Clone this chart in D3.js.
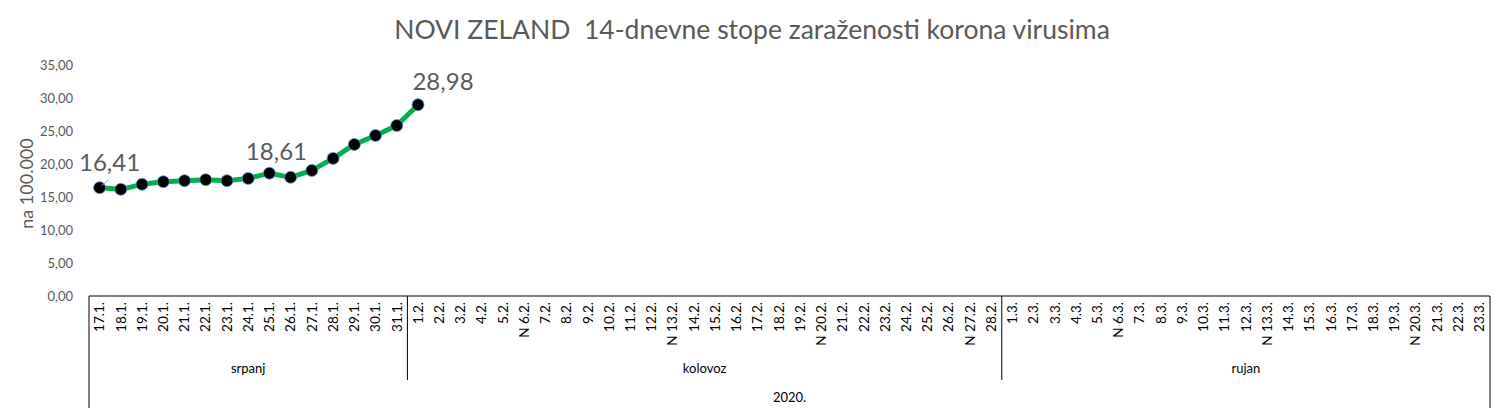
<!DOCTYPE html>
<html lang="hr">
  <head>
    <meta charset="UTF-8" />
    <title>NOVI ZELAND</title>
    <style>
      body { margin: 0; background: #fff; }
      text { font-family: Lato, "Liberation Sans", sans-serif; fill: #595959; white-space: pre; }
    </style>
  </head>
  <body>
    <script src="https://d3js.org/d3.v7.min.js"></script>
    <script>
      // kategorije po mjesecima
      const srpanj = d3.range(17, 32).map((d) => `${d}.1.`);
      const kolovoz = d3.range(1, 29).map((d) => `${d}.2.`);
      const rujan = d3.range(1, 24).map((d) => `${d}.3.`);
      const nedjelje = ["6.2.", "13.2.", "20.2.", "27.2.", "6.3.", "13.3.", "20.3."];
      const months = ["srpanj", "kolovoz", "rujan"];
      const year = "2020.";

      const values = [
        16.41, 16.16, 16.92, 17.32, 17.47, 17.62, 17.47, 17.82,
        18.61, 17.98, 19.03, 20.85, 22.96, 24.32, 25.83, 28.98,
      ];
      const labelled = [0, 8, 15]; // točke s oznakom vrijednosti
      const yTicks = [0, 5, 10, 15, 20, 25, 30, 35];

      const categories = [...srpanj, ...kolovoz, ...rujan];
      const groups = [srpanj, kolovoz, rujan];

      const W = 1497, H = 414;
      const mLeft = 89, mRight = 1490, mTop = 65, mBottom = 296;

      const svg = d3.select("body").append("svg").attr("width", W).attr("height", H);

      svg.append("text")
        .attr("x", 752).attr("y", 39)
        .attr("text-anchor", "middle")
        .attr("font-size", 26.5)
        .text("NOVI ZELAND  14-dnevne stope zaraženosti korona virusima");

      const x = d3.scaleBand().domain(categories).range([mLeft, mRight]);
      const y = d3.scaleLinear().domain([0, 35]).range([mBottom, mTop]);
      const fmt = (v) => d3.format(".2f")(v).replace(".", ",");

      // y os
      const yAxis = svg.append("g")
        .attr("transform", `translate(${mLeft - 13},0)`)
        .call(d3.axisLeft(y).tickValues(yTicks).tickSize(0).tickFormat(fmt));
      yAxis.select(".domain").remove();
      yAxis.selectAll("text").attr("font-size", 13).attr("fill", "#595959")
        .style("font-family", "Lato, sans-serif");

      svg.append("text")
        .attr("transform", `translate(33,${(mTop + mBottom) / 2 + 3}) rotate(-90)`)
        .attr("text-anchor", "middle")
        .attr("font-size", 18)
        .text("na 100.000");

      // x os - datumi
      const xAxis = svg.append("g")
        .attr("transform", `translate(0,${mBottom})`)
        .call(d3.axisBottom(x).tickSize(0).tickFormat((d) => (nedjelje.includes(d) ? "N " + d : d)));
      xAxis.select(".domain").remove();
      xAxis.selectAll("text")
        .attr("transform", "rotate(-90)")
        .attr("x", -6).attr("y", 0).attr("dy", "0.35em")
        .attr("text-anchor", "end")
        .attr("font-size", 13.5)
        .style("fill", "#000")
        .style("font-family", "Lato, sans-serif");

      const lines = svg.append("g").attr("stroke", "#000").attr("stroke-width", 1);
      lines.append("line").attr("x1", mLeft).attr("x2", mRight).attr("y1", mBottom).attr("y2", mBottom);
      lines.append("line").attr("x1", mLeft).attr("x2", mLeft).attr("y1", mBottom).attr("y2", 408);
      lines.append("line").attr("x1", mRight).attr("x2", mRight).attr("y1", mBottom).attr("y2", 408);

      groups.forEach((g, i) => {
        const x0 = x(g[0]);
        const x1 = x(g[g.length - 1]) + x.bandwidth();
        if (i > 0) {
          lines.append("line").attr("x1", x0).attr("x2", x0).attr("y1", mBottom).attr("y2", 380);
        }
        svg.append("text")
          .attr("x", (x0 + x1) / 2).attr("y", 373)
          .attr("text-anchor", "middle")
          .attr("font-size", 13).style("fill", "#000")
          .text(months[i]);
      });
      svg.append("text")
        .attr("x", (mLeft + mRight) / 2).attr("y", 402)
        .attr("text-anchor", "middle")
        .attr("font-size", 13).style("fill", "#000")
        .text(year);

      // linija
      const cx = (i) => x(categories[i]) + x.bandwidth() / 2;
      svg.append("path")
        .datum(values)
        .attr("fill", "none")
        .attr("stroke", "#00B050")
        .attr("stroke-width", 5)
        .attr("stroke-linejoin", "round")
        .attr("d", d3.line().x((d, i) => cx(i)).y((d) => y(d)));

      svg.append("g").selectAll("circle")
        .data(values)
        .join("circle")
        .attr("cx", (d, i) => cx(i))
        .attr("cy", (d) => y(d))
        .attr("r", 6)
        .attr("fill", "#000")
        .attr("stroke", "#5B9BD5")
        .attr("stroke-width", 0.8);

      // oznake vrijednosti
      const offsets = { 0: [10, -17], 8: [7, -13], 15: [25, -15] };
      svg.append("line")
        .attr("x1", cx(0) + 2).attr("y1", y(values[0]) - 2)
        .attr("x2", cx(0) + 9).attr("y2", y(values[0]) - 8)
        .attr("stroke", "#a6a6a6").attr("stroke-width", 1);
      labelled.forEach((i) => {
        svg.append("text")
          .attr("x", cx(i) + offsets[i][0])
          .attr("y", y(values[i]) + offsets[i][1])
          .attr("text-anchor", "middle")
          .attr("font-size", 24)
          .text(fmt(values[i]));
      });
    </script>
  </body>
</html>
